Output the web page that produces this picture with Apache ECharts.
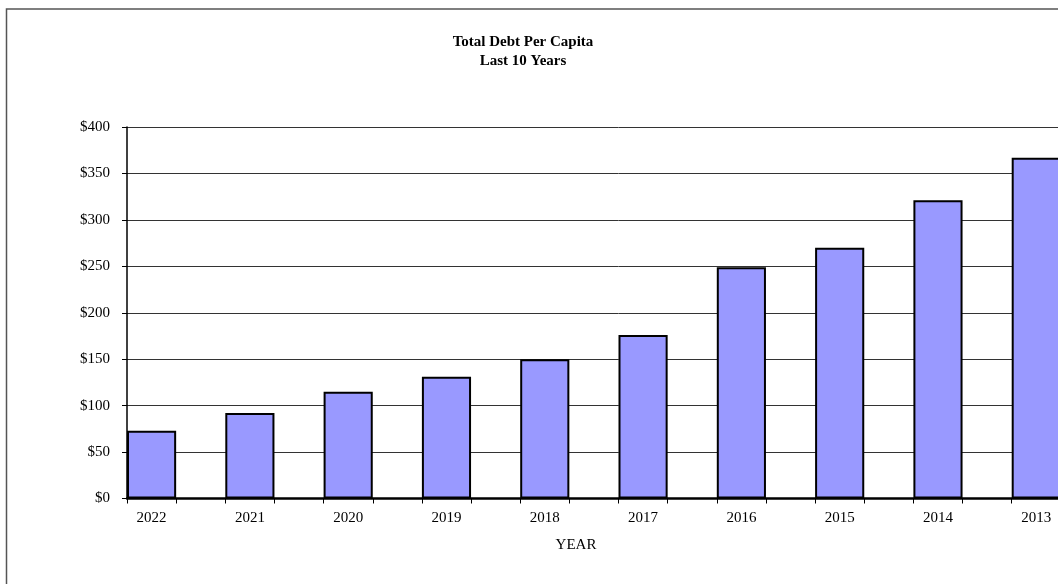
<!DOCTYPE html>
<html>
<head>
<meta charset="utf-8">
<script src="https://cdn.jsdelivr.net/npm/echarts@6/dist/echarts.min.js"></script>
<style>
  html, body { margin: 0; padding: 0; background: #fff; overflow: hidden; width: 1058px; height: 584px; }
  #chart { width: 1200px; height: 584px; }
</style>
</head>
<body>
<div id="chart"></div>
<script>
// ---- Data ----
const years = ['2022', '2021', '2020', '2019', '2018', '2017', '2016', '2015', '2014', '2013'];
const debtPerCapita = [73, 92, 115, 131, 150, 176, 249, 270, 321, 367];
const yTickValues = [0, 50, 100, 150, 200, 250, 300, 350, 400];
const titleLines = ['Total Debt Per Capita', 'Last 10 Years'];
const xAxisTitle = 'YEAR';

// Each year is followed by an empty slot (the bar fills only the first half of each year's space)
const categories = [];
const seriesData = [];
years.forEach((y, i) => {
  categories.push(y);
  categories.push('_gap' + i);
  seriesData.push(debtPerCapita[i]);
  seriesData.push('-');
});

const FONT = '"Liberation Serif", "Times New Roman", serif';

const chart = echarts.init(document.getElementById('chart'), null, { renderer: 'canvas', width: 1200, height: 584 });
chart.setOption({
  animation: false,
  backgroundColor: '#fff',
  grid: { left: 127, top: 127, right: 90, bottom: 85.5, containLabel: false },
  xAxis: {
    type: 'category',
    data: categories,
    boundaryGap: true,
    axisLine: { show: true, lineStyle: { color: '#000', width: 2.5 } },
    axisTick: { show: true, interval: 0, length: 5, lineStyle: { color: '#000', width: 1 } },
    axisLabel: {
      interval: 0,
      margin: 12,
      color: '#000',
      fontFamily: FONT,
      fontSize: 15,
      formatter: v => (v.indexOf('_gap') === 0 ? '' : v)
    },
    splitLine: { show: false }
  },
  yAxis: {
    type: 'value',
    min: 0,
    max: 400,
    interval: 50,
    axisLine: { show: true, lineStyle: { color: '#000', width: 1.5 } },
    axisTick: { show: true, length: 5, lineStyle: { color: '#000', width: 1 } },
    axisLabel: {
      margin: 17,
      color: '#000',
      fontFamily: FONT,
      fontSize: 15,
      formatter: v => (yTickValues.indexOf(v) >= 0 ? '$' + v : '')
    },
    splitLine: { show: true, lineStyle: { color: '#333', width: 1 } }
  },
  series: [{
    type: 'bar',
    data: seriesData,
    barWidth: '100%',
    itemStyle: { color: '#9999FF', borderColor: '#000', borderWidth: 2 },
    emphasis: { disabled: true }
  }],
  graphic: [
    {
      type: 'rect',
      silent: true,
      z: -1,
      shape: { x: 6.5, y: 9, width: 1300, height: 800 },
      style: { fill: 'none', stroke: '#555', lineWidth: 1.5 }
    },
    {
      type: 'text',
      x: 523,
      y: 33,
      style: {
        text: titleLines.join('\n'),
        font: 'bold 15px ' + FONT,
        textAlign: 'center',
        textVerticalAlign: 'top',
        lineHeight: 19,
        fill: '#000'
      }
    },
    {
      type: 'text',
      x: 576,
      y: 545,
      style: {
        text: xAxisTitle,
        font: '15px ' + FONT,
        textAlign: 'center',
        textVerticalAlign: 'middle',
        fill: '#000'
      }
    }
  ]
});
</script>
</body>
</html>
